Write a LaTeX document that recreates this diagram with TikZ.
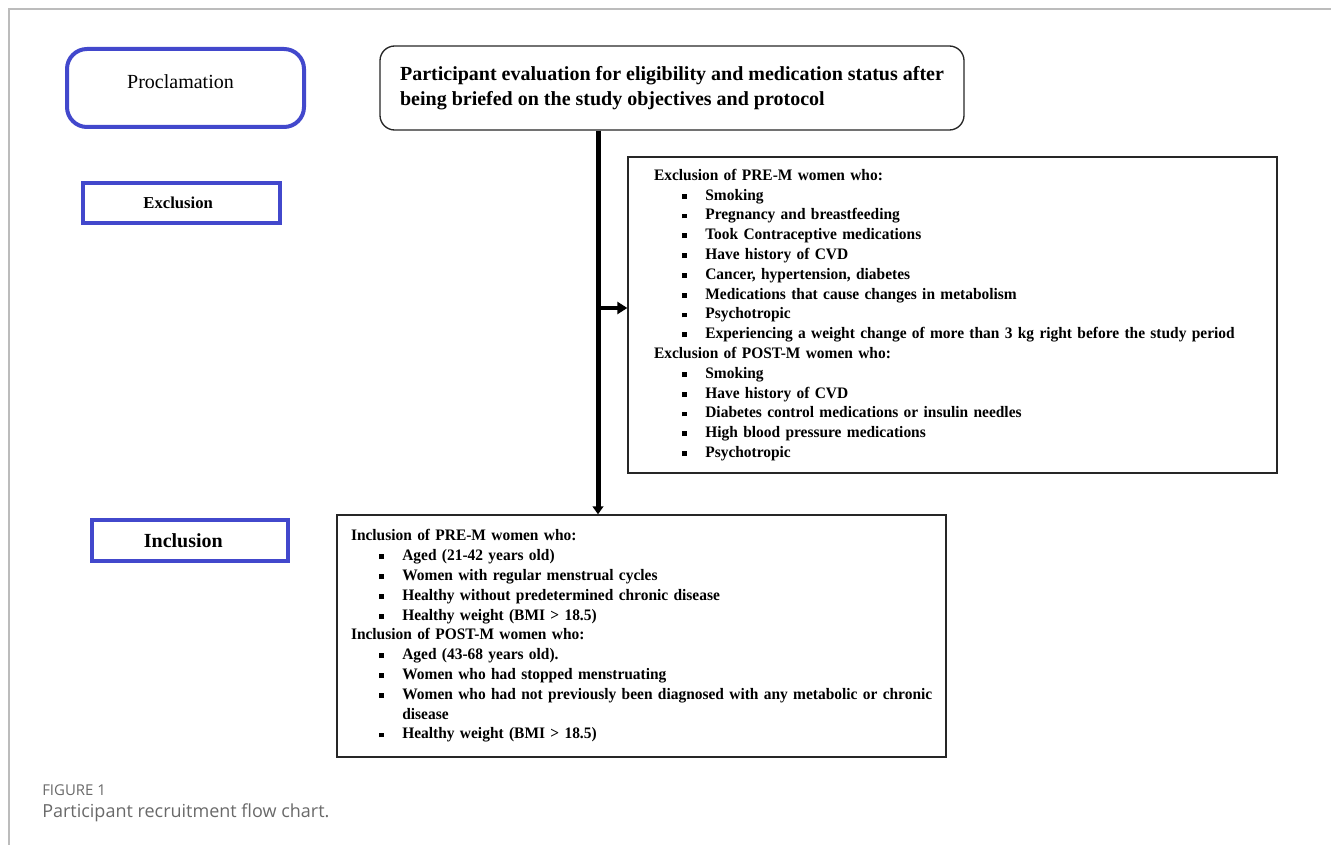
\documentclass[tikz,border=0pt]{standalone}
\usepackage{fontspec}
\setmainfont{Liberation Serif}
\newfontfamily\listfont[FakeStretch=0.965, WordSpace=0.78]{Liberation Serif}
\newfontfamily\capfont{Open Sans}
\usetikzlibrary{arrows.meta,positioning,calc}
\definecolor{tagblue}{RGB}{66,72,204}
\definecolor{framegrey}{RGB}{188,188,188}
\definecolor{captiongrey}{RGB}{105,105,105}
\newcommand{\bitem}[1]{\mbox{\hspace*{21pt}\makebox[17.5pt][l]{\raisebox{0.2ex}{\rule{3.6pt}{3.6pt}}}#1}}
\tikzset{
  tagbox/.style   ={rectangle, draw=tagblue, line width=3pt, inner sep=0pt},
  stagebox/.style ={rectangle, rounded corners=11pt, draw=black!85, line width=1pt,
                    align=left, font=\fontsize{15}{18.75}\selectfont\bfseries},
  listbox/.style  ={rectangle, draw=black!85, line width=1pt, align=left,
                    font=\listfont\fontsize{12}{14.85}\selectfont\bfseries},
  mainflow/.style ={line width=3.75pt, -{Triangle[length=6pt,width=8pt]}},
  sideflow/.style ={line width=2.4pt, -{Triangle[length=7.5pt,width=9pt]}},
  captext/.style  ={anchor=west, inner sep=0pt, text=captiongrey},
}
\begin{document}
\begin{tikzpicture}[x=0.75pt, y=-0.75pt]
\useasboundingbox (0,0) rectangle (1331,845);
\draw[framegrey, line width=1.4pt] (9,845) -- (9,9) -- (1331,9);
% stage labels on the left
\node[tagbox, rounded corners=15pt, minimum width=177.75pt, minimum height=58.5pt,
      text depth=9pt, font=\fontsize{15}{18}\selectfont] (proc) at (185.5,88)
  {\hspace*{-7.5pt}Proclamation};
\node[tagbox, minimum width=147.75pt, minimum height=30pt,
      font=\fontsize{12.5}{15}\selectfont\bfseries] (excltag) at (181.5,203) {\hspace*{-5pt}Exclusion};
\node[tagbox, minimum width=147pt, minimum height=30.75pt,
      font=\fontsize{15}{18}\selectfont\bfseries] (incltag) at (190,540.5) {\hspace*{-10pt}Inclusion};
% flow
\node[stagebox, minimum width=438pt, minimum height=63pt] (stage) at (672,88)
  {Participant evaluation for eligibility and medication status after\\
   being briefed on the study objectives and protocol};
\node[listbox, minimum width=486.75pt, minimum height=237pt, inner xsep=19.5pt,
      text width=447.75pt] (exclist) at (952.5,315)
  {Exclusion of PRE-M women who:\\
   \bitem{Smoking}\\
   \bitem{Pregnancy and breastfeeding}\\
   \bitem{Took Contraceptive medications}\\
   \bitem{Have history of CVD}\\
   \bitem{Cancer, hypertension, diabetes}\\
   \bitem{Medications that cause changes in metabolism}\\
   \bitem{Psychotropic}\\
   \bitem{Experiencing a weight change of more than 3 kg right before the study period}\\
   Exclusion of POST-M women who:\\
   \bitem{Smoking}\\
   \bitem{Have history of CVD}\\
   \bitem{Diabetes control medications or insulin needles}\\
   \bitem{High blood pressure medications}\\
   \bitem{Psychotropic}};
\node[listbox, minimum width=456.75pt, minimum height=181.5pt, inner xsep=10.5pt,
      text width=435.75pt] (incllist) at (641.5,636)
  {Inclusion of PRE-M women who:\\
   \bitem{Aged (21-42 years old)}\\
   \bitem{Women with regular menstrual cycles}\\
   \bitem{Healthy without predetermined chronic disease}\\
   \bitem{Healthy weight (BMI > 18.5)}\\
   Inclusion of POST-M women who:\\
   \bitem{Aged (43-68 years old).}\\
   \bitem{Women who had stopped menstruating}\\
   \bitem{Women who had not previously been diagnosed with any metabolic or chronic}\\
   \hspace*{38.5pt}disease\\
   \bitem{Healthy weight (BMI > 18.5)}};
\coordinate (fork) at (598,308);
\draw[mainflow] (stage.south -| fork) -- (incllist.north -| fork);
\draw[sideflow] (fork) -- (fork -| exclist.west);
% caption
\node[captext, font=\capfont\fontsize{11.2}{13}\selectfont] (fignum) at (42,790) {FIGURE 1};
\node[captext, font=\capfont\fontsize{13.5}{16}\selectfont] (figcap) at (42,813) {Participant recruitment flow chart.};
\end{tikzpicture}
\end{document}
